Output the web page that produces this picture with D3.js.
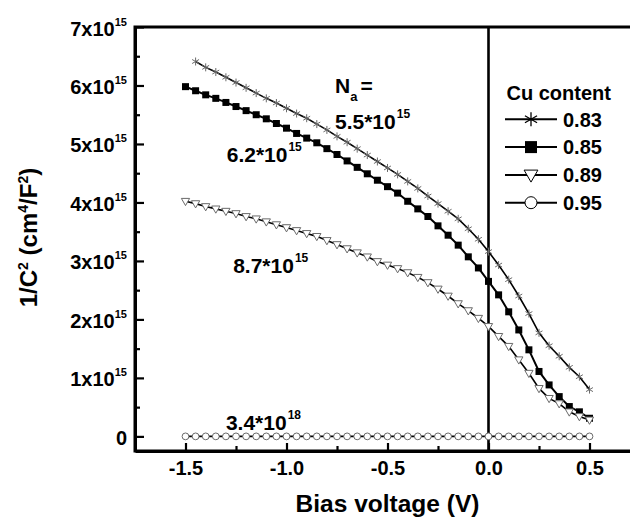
<!DOCTYPE html>
<html>
<head>
<meta charset="utf-8">
<script src="https://cdn.jsdelivr.net/npm/d3@7"></script>
<style>
  html, body { margin: 0; padding: 0; background: #fff; }
  svg { display: block; font-family: "Liberation Sans", Arial, sans-serif; font-weight: bold; }
</style>
</head>
<body>
<svg id="chart" width="630" height="518"></svg>
<script>
// Bias voltage (V) for each measured point
const bias = [-1.50, -1.45, -1.40, -1.35, -1.30, -1.25, -1.20, -1.15, -1.10, -1.05,
              -1.00, -0.95, -0.90, -0.85, -0.80, -0.75, -0.70, -0.65, -0.60, -0.55,
              -0.50, -0.45, -0.40, -0.35, -0.30, -0.25, -0.20, -0.15, -0.10, -0.05,
               0.00,  0.05,  0.10,  0.15,  0.20,  0.25,  0.30,  0.35,  0.40,  0.45, 0.50];

// 1/C^2 in units of 10^15 cm^4/F^2
// Cu 0.83 starts at -1.45 V
const cu083 = [6.41, 6.31, 6.23, 6.14, 6.05, 5.96, 5.87, 5.78, 5.70,
               5.61, 5.52, 5.44, 5.34, 5.24, 5.13, 5.03, 4.92, 4.81, 4.70,
               4.59, 4.48, 4.36, 4.24, 4.11, 3.98, 3.85, 3.72, 3.55, 3.37,
               3.16, 2.93, 2.68, 2.40, 2.10, 1.77, 1.55, 1.37, 1.18, 1.02, 0.80];
const cu085 = [5.98, 5.91, 5.84, 5.78, 5.71, 5.64, 5.57, 5.50, 5.43, 5.35,
               5.27, 5.18, 5.10, 5.02, 4.92, 4.82, 4.71, 4.60, 4.49, 4.38,
               4.27, 4.16, 4.02, 3.89, 3.76, 3.60, 3.44, 3.27, 3.07, 2.88,
               2.65, 2.42, 2.13, 1.82, 1.48, 1.11, 0.88, 0.68, 0.51, 0.42, 0.31];
const cu089 = [4.02, 3.98, 3.93, 3.89, 3.85, 3.81, 3.76, 3.72, 3.67, 3.62,
               3.57, 3.52, 3.47, 3.42, 3.35, 3.28, 3.21, 3.14, 3.07, 2.99,
               2.93, 2.87, 2.80, 2.72, 2.63, 2.52, 2.40, 2.27, 2.15, 2.02,
               1.88, 1.71, 1.54, 1.31, 1.08, 0.82, 0.65, 0.56, 0.42, 0.34, 0.28];
const cu095 = [0, 0, 0, 0, 0, 0, 0, 0, 0, 0,
               0, 0, 0, 0, 0, 0, 0, 0, 0, 0,
               0, 0, 0, 0, 0, 0, 0, 0, 0, 0,
               0, 0, 0, 0, 0, 0, 0, 0, 0, 0, 0];

const seriesNames = ["0.83", "0.85", "0.89", "0.95"];
const symbols = ["star", "square", "triangle", "circle"];

const xTicks = [-1.5, -1.0, -0.5, 0.0, 0.5];
const xTickLabels = ["-1.5", "-1.0", "-0.5", "0.0", "0.5"];
const xMinorTicks = [-1.25, -0.75, -0.25, 0.25];
const yTicks = [0, 1, 2, 3, 4, 5, 6, 7];
const yMinorTicks = [0.5, 1.5, 2.5, 3.5, 4.5, 5.5, 6.5];

// Doping density labels: [main text, superscript, x (V), y (10^15)]
const dopingLabels = [
  ["5.5*10", "15", -0.76, 5.26],
  ["6.2*10", "15", -1.296, 4.70],
  ["8.7*10", "15", -1.264, 2.79],
  ["3.4*10", "18", -1.30, 0.11]
];

const svg = d3.select("#chart");
const W = 630, H = 518;
const m = { left: 135, top: 27, right: -10, bottom: 67 };

const x = d3.scaleLinear().domain([-1.75, 0.75]).range([m.left, W - m.right]);
const y = d3.scaleLinear().domain([-0.25, 7]).range([H - m.bottom, m.top]);

// Frame (top edge + axes)
svg.append("rect")
  .attr("x", x(-1.75)).attr("y", y(7))
  .attr("width", x(0.75) - x(-1.75)).attr("height", y(-0.25) - y(7))
  .attr("fill", "none").attr("stroke", "#000").attr("stroke-width", 3);

// Y axis: major ticks with labels
const gY = svg.append("g").attr("transform", `translate(${x(-1.75)},0)`)
  .call(d3.axisLeft(y).tickValues(yTicks).tickSize(-9).tickSizeOuter(0).tickPadding(8)
        .tickFormat(d => d));
gY.selectAll(".domain").attr("stroke-width", 3);
gY.selectAll(".tick line").attr("stroke-width", 2.2);
gY.attr("font-family", null).attr("font-size", null);
gY.selectAll(".tick text").each(function (d) {
  const t = d3.select(this);
  t.text(null).attr("font-size", 20).attr("fill", "#000").attr("dy", "0.4em");
  if (d === 0) {
    t.text("0");
  } else {
    t.append("tspan").text(d + "x10");
    t.append("tspan").attr("dy", -10).attr("font-size", 11).text("15");
  }
});
// Y axis: minor ticks
const gYMinor = svg.append("g").attr("transform", `translate(${x(-1.75)},0)`)
  .call(d3.axisLeft(y).tickValues(yMinorTicks).tickSize(-5).tickSizeOuter(0).tickFormat(""));
gYMinor.select(".domain").remove();
gYMinor.selectAll(".tick line").attr("stroke-width", 2.2);

// X axis: major ticks with labels
const gX = svg.append("g").attr("transform", `translate(0,${y(-0.25)})`)
  .call(d3.axisBottom(x).tickValues(xTicks).tickSize(-8).tickSizeOuter(0).tickPadding(10)
        .tickFormat((d, i) => xTickLabels[i]));
gX.selectAll(".domain").attr("stroke-width", 3);
gX.selectAll(".tick line").attr("stroke-width", 2.2);
gX.attr("font-family", null).attr("font-size", null);
gX.selectAll(".tick text").attr("font-size", 20).attr("fill", "#000");
// X axis: minor ticks
const gXMinor = svg.append("g").attr("transform", `translate(0,${y(-0.25)})`)
  .call(d3.axisBottom(x).tickValues(xMinorTicks).tickSize(-5).tickSizeOuter(0).tickFormat(""));
gXMinor.select(".domain").remove();
gXMinor.selectAll(".tick line").attr("stroke-width", 2.2);

// Zero-bias line
svg.append("line")
  .attr("x1", x(0)).attr("x2", x(0))
  .attr("y1", y(7)).attr("y2", y(-0.25))
  .attr("stroke", "#000").attr("stroke-width", 2.6);

// Axis titles
svg.append("text")
  .attr("x", x(-0.5)).attr("y", 512)
  .attr("text-anchor", "middle").attr("font-size", 24.5)
  .text("Bias voltage (V)");

const yTitle = svg.append("text")
  .attr("transform", `translate(37,${y(3.4)}) rotate(-90)`)
  .attr("text-anchor", "middle").attr("font-size", 24);
yTitle.append("tspan").text("1/C");
yTitle.append("tspan").attr("dy", -9).attr("font-size", 14).text("2");
yTitle.append("tspan").attr("dy", 9).text(" (cm");
yTitle.append("tspan").attr("dy", -9).attr("font-size", 14).text("4");
yTitle.append("tspan").attr("dy", 9).text("/F");
yTitle.append("tspan").attr("dy", -9).attr("font-size", 14).text("2");
yTitle.append("tspan").attr("dy", 9).text(")");

// Doping annotations
const na = svg.append("text").attr("x", x(-0.76)).attr("y", y(5.87)).attr("font-size", 21);
na.append("tspan").text("N");
na.append("tspan").attr("dy", 8).attr("font-size", 13).text("a");
na.append("tspan").attr("dy", -8).attr("dx", 3).text("=");

dopingLabels.forEach(([main, sup, vx, vy]) => {
  const t = svg.append("text").attr("x", x(vx)).attr("y", y(vy)).attr("font-size", 21);
  t.append("tspan").text(main);
  t.append("tspan").attr("dy", -11).attr("dx", 1).attr("font-size", 12).text(sup);
});

// Marker shapes
function markerPath(kind, r) {
  switch (kind) {
    case "star": {
      const c = Math.cos(Math.PI / 6) * r, s = Math.sin(Math.PI / 6) * r;
      return `M0,${-r}V${r}M${-c},${-s}L${c},${s}M${-c},${s}L${c},${-s}`;
    }
    case "square":
      return `M${-r},${-r}H${r}V${r}H${-r}Z`;
    case "triangle":
      return `M${-r * 1.15},${-r * 0.8}H${r * 1.15}L0,${r * 1.2}Z`;
    case "circle":
      return d3.arc()({ innerRadius: 0, outerRadius: r, startAngle: 0, endAngle: 2 * Math.PI });
  }
}
function markerStyle(sel, kind, inLegend) {
  const edge = inLegend ? "#000" : "#6a6a6a";
  if (kind === "star") sel.attr("fill", "none").attr("stroke", edge).attr("stroke-width", inLegend ? 1.3 : 1);
  if (kind === "square") sel.attr("fill", "#000").attr("stroke", "none");
  if (kind === "triangle") sel.attr("fill", "#fff").attr("stroke", edge).attr("stroke-width", 1);
  if (kind === "circle") sel.attr("fill", "#fff").attr("stroke", edge).attr("stroke-width", 1);
}

const seriesData = [
  bias.slice(1).map((v, i) => [v, cu083[i]]),
  bias.map((v, i) => [v, cu085[i]]),
  bias.map((v, i) => [v, cu089[i]]),
  bias.map((v, i) => [v, cu095[i]])
];
const plotSizes = [4, 3.5, 3.6, 3.4];
const line = d3.line().x(d => x(d[0])).y(d => y(d[1]));

seriesData.forEach((pts, k) => {
  const g = svg.append("g");
  g.append("path").attr("d", line(pts)).attr("fill", "none")
    .attr("stroke", "#000").attr("stroke-width", k === 1 ? 2 : 1.6);
  g.selectAll("path.mk").data(pts).join("path").attr("class", "mk")
    .attr("transform", d => `translate(${x(d[0])},${y(d[1])})`)
    .attr("d", markerPath(symbols[k], plotSizes[k]))
    .call(markerStyle, symbols[k], false);
});

// Legend
const lg = svg.append("g").attr("transform", "translate(505,0)");
lg.append("text").attr("x", 1.5).attr("y", 99.5).attr("font-size", 20).text("Cu content");
const legendSizes = [7, 6, 6, 6];
seriesNames.forEach((name, k) => {
  const cy = 119.3 + k * 27.8;
  lg.append("line").attr("x1", 0).attr("x2", 52).attr("y1", cy).attr("y2", cy)
    .attr("stroke", "#000").attr("stroke-width", 2);
  lg.append("path").attr("transform", `translate(26,${cy})`)
    .attr("d", markerPath(symbols[k], legendSizes[k]))
    .call(markerStyle, symbols[k], true);
  lg.append("text").attr("x", 58).attr("y", cy + 7.3).attr("font-size", 20).text(name);
});
</script>
</body>
</html>
